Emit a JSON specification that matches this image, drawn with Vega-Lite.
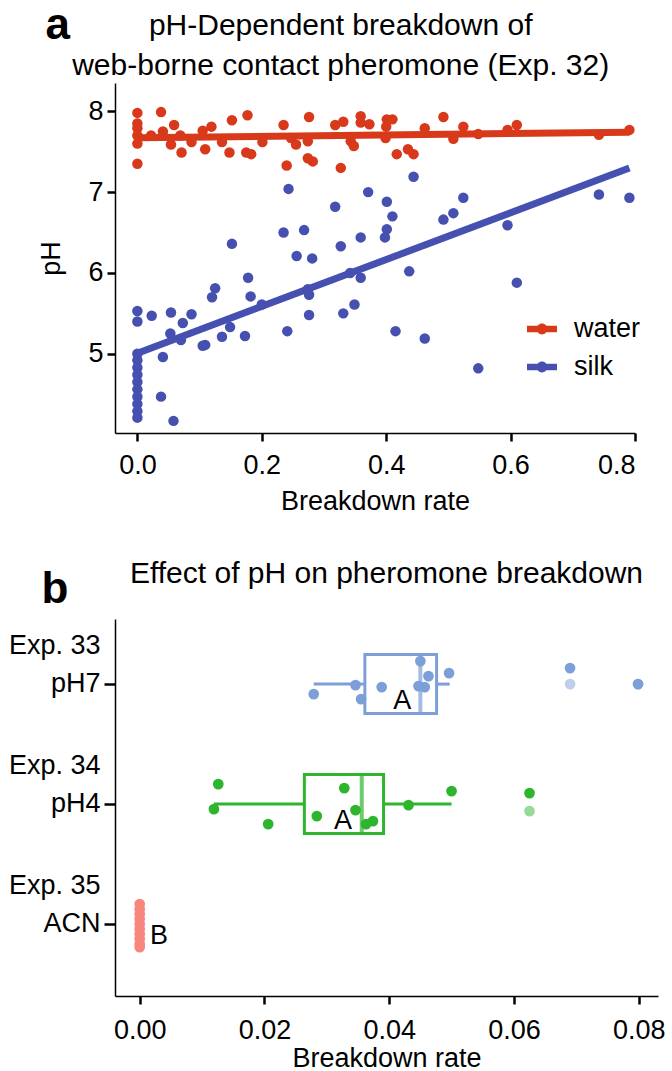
{
  "$schema": "https://vega.github.io/schema/vega-lite/v6.json",
  "padding": {"left": 8, "top": 4, "right": 5, "bottom": 3},
  "title": {"text": "a", "anchor": "start", "frame": "bounds", "fontSize": 44, "fontWeight": "bold", "offset": -37, "dx": 37, "color": "black"},
  "resolve": {"scale": {"color": "independent", "stroke": "independent"}},
  "datasets": {
    "scatter": [
      {"series": "water", "rate": 0.0, "pH": 7.98}, {"series": "water", "rate": 0.0, "pH": 7.85}, {"series": "water", "rate": 0.0, "pH": 7.79}, {"series": "water", "rate": 0.0, "pH": 7.70}, {"series": "water", "rate": 0.0, "pH": 7.60}, {"series": "water", "rate": 0.0, "pH": 7.35},
      {"series": "water", "rate": 0.022, "pH": 7.70}, {"series": "water", "rate": 0.038, "pH": 7.99}, {"series": "water", "rate": 0.041, "pH": 7.75}, {"series": "water", "rate": 0.054, "pH": 7.59}, {"series": "water", "rate": 0.059, "pH": 7.83}, {"series": "water", "rate": 0.071, "pH": 7.49}, {"series": "water", "rate": 0.069, "pH": 7.70}, {"series": "water", "rate": 0.087, "pH": 7.62}, {"series": "water", "rate": 0.105, "pH": 7.76}, {"series": "water", "rate": 0.109, "pH": 7.53}, {"series": "water", "rate": 0.119, "pH": 7.81}, {"series": "water", "rate": 0.136, "pH": 7.62}, {"series": "water", "rate": 0.148, "pH": 7.49}, {"series": "water", "rate": 0.152, "pH": 7.89}, {"series": "water", "rate": 0.177, "pH": 7.95}, {"series": "water", "rate": 0.175, "pH": 7.49}, {"series": "water", "rate": 0.183, "pH": 7.47}, {"series": "water", "rate": 0.201, "pH": 7.62}, {"series": "water", "rate": 0.235, "pH": 7.83}, {"series": "water", "rate": 0.24, "pH": 7.33}, {"series": "water", "rate": 0.247, "pH": 7.67}, {"series": "water", "rate": 0.255, "pH": 7.59}, {"series": "water", "rate": 0.274, "pH": 7.63}, {"series": "water", "rate": 0.276, "pH": 7.93}, {"series": "water", "rate": 0.274, "pH": 7.42}, {"series": "water", "rate": 0.282, "pH": 7.38}, {"series": "water", "rate": 0.318, "pH": 7.83}, {"series": "water", "rate": 0.331, "pH": 7.87}, {"series": "water", "rate": 0.327, "pH": 7.30}, {"series": "water", "rate": 0.343, "pH": 7.63}, {"series": "water", "rate": 0.348, "pH": 7.57}, {"series": "water", "rate": 0.359, "pH": 7.94}, {"series": "water", "rate": 0.359, "pH": 7.86}, {"series": "water", "rate": 0.373, "pH": 7.84}, {"series": "water", "rate": 0.401, "pH": 7.90}, {"series": "water", "rate": 0.41, "pH": 7.90}, {"series": "water", "rate": 0.4, "pH": 7.81}, {"series": "water", "rate": 0.399, "pH": 7.67}, {"series": "water", "rate": 0.417, "pH": 7.47}, {"series": "water", "rate": 0.435, "pH": 7.53}, {"series": "water", "rate": 0.444, "pH": 7.47}, {"series": "water", "rate": 0.462, "pH": 7.79}, {"series": "water", "rate": 0.492, "pH": 7.93}, {"series": "water", "rate": 0.508, "pH": 7.66}, {"series": "water", "rate": 0.524, "pH": 7.81}, {"series": "water", "rate": 0.548, "pH": 7.72}, {"series": "water", "rate": 0.595, "pH": 7.77}, {"series": "water", "rate": 0.61, "pH": 7.83}, {"series": "water", "rate": 0.742, "pH": 7.71}, {"series": "water", "rate": 0.791, "pH": 7.77},
      {"series": "silk", "rate": 0.0, "pH": 5.53}, {"series": "silk", "rate": 0.0, "pH": 5.40}, {"series": "silk", "rate": 0.0, "pH": 5.00}, {"series": "silk", "rate": 0.0, "pH": 4.92}, {"series": "silk", "rate": 0.0, "pH": 4.83}, {"series": "silk", "rate": 0.0, "pH": 4.74}, {"series": "silk", "rate": 0.0, "pH": 4.65}, {"series": "silk", "rate": 0.0, "pH": 4.56}, {"series": "silk", "rate": 0.0, "pH": 4.47}, {"series": "silk", "rate": 0.0, "pH": 4.38}, {"series": "silk", "rate": 0.0, "pH": 4.29}, {"series": "silk", "rate": 0.0, "pH": 4.21},
      {"series": "silk", "rate": 0.023, "pH": 5.47}, {"series": "silk", "rate": 0.054, "pH": 5.51}, {"series": "silk", "rate": 0.053, "pH": 5.25}, {"series": "silk", "rate": 0.073, "pH": 5.38}, {"series": "silk", "rate": 0.087, "pH": 5.49}, {"series": "silk", "rate": 0.07, "pH": 5.17}, {"series": "silk", "rate": 0.041, "pH": 4.96}, {"series": "silk", "rate": 0.038, "pH": 4.47}, {"series": "silk", "rate": 0.058, "pH": 4.17}, {"series": "silk", "rate": 0.105, "pH": 5.10}, {"series": "silk", "rate": 0.109, "pH": 5.11}, {"series": "silk", "rate": 0.136, "pH": 5.21}, {"series": "silk", "rate": 0.149, "pH": 5.33}, {"series": "silk", "rate": 0.173, "pH": 5.22}, {"series": "silk", "rate": 0.2, "pH": 5.61}, {"series": "silk", "rate": 0.182, "pH": 5.71}, {"series": "silk", "rate": 0.178, "pH": 5.94}, {"series": "silk", "rate": 0.125, "pH": 5.81}, {"series": "silk", "rate": 0.12, "pH": 5.70}, {"series": "silk", "rate": 0.152, "pH": 6.36}, {"series": "silk", "rate": 0.235, "pH": 6.50}, {"series": "silk", "rate": 0.243, "pH": 7.04}, {"series": "silk", "rate": 0.268, "pH": 6.53}, {"series": "silk", "rate": 0.256, "pH": 6.21}, {"series": "silk", "rate": 0.281, "pH": 6.18}, {"series": "silk", "rate": 0.241, "pH": 5.28}, {"series": "silk", "rate": 0.274, "pH": 5.80}, {"series": "silk", "rate": 0.276, "pH": 5.73}, {"series": "silk", "rate": 0.276, "pH": 5.48}, {"series": "silk", "rate": 0.318, "pH": 6.82}, {"series": "silk", "rate": 0.327, "pH": 6.33}, {"series": "silk", "rate": 0.331, "pH": 5.50}, {"series": "silk", "rate": 0.342, "pH": 6.00}, {"series": "silk", "rate": 0.349, "pH": 5.61}, {"series": "silk", "rate": 0.359, "pH": 5.94}, {"series": "silk", "rate": 0.359, "pH": 6.44}, {"series": "silk", "rate": 0.371, "pH": 7.00}, {"series": "silk", "rate": 0.401, "pH": 6.88}, {"series": "silk", "rate": 0.41, "pH": 6.70}, {"series": "silk", "rate": 0.401, "pH": 6.54}, {"series": "silk", "rate": 0.398, "pH": 6.44}, {"series": "silk", "rate": 0.437, "pH": 6.02}, {"series": "silk", "rate": 0.444, "pH": 7.19}, {"series": "silk", "rate": 0.415, "pH": 5.28}, {"series": "silk", "rate": 0.462, "pH": 5.19}, {"series": "silk", "rate": 0.492, "pH": 6.66}, {"series": "silk", "rate": 0.508, "pH": 6.74}, {"series": "silk", "rate": 0.524, "pH": 6.93}, {"series": "silk", "rate": 0.548, "pH": 4.82}, {"series": "silk", "rate": 0.595, "pH": 6.59}, {"series": "silk", "rate": 0.61, "pH": 5.88}, {"series": "silk", "rate": 0.742, "pH": 6.97}, {"series": "silk", "rate": 0.791, "pH": 6.93}
    ],
    "points": [
      {"group": "Exp. 33|pH7", "rate": 0.0279, "jit": 10}, {"group": "Exp. 33|pH7", "rate": 0.0346, "jit": 1}, {"group": "Exp. 33|pH7", "rate": 0.0355, "jit": 15}, {"group": "Exp. 33|pH7", "rate": 0.0388, "jit": 3}, {"group": "Exp. 33|pH7", "rate": 0.0450, "jit": -23}, {"group": "Exp. 33|pH7", "rate": 0.0447, "jit": 2}, {"group": "Exp. 33|pH7", "rate": 0.0457, "jit": 3}, {"group": "Exp. 33|pH7", "rate": 0.0463, "jit": -8}, {"group": "Exp. 33|pH7", "rate": 0.0496, "jit": -11}, {"group": "Exp. 33|pH7", "rate": 0.0690, "jit": -16}, {"group": "Exp. 33|pH7", "rate": 0.0799, "jit": 0},
      {"group": "Exp. 34|pH4", "rate": 0.0126, "jit": -20}, {"group": "Exp. 34|pH4", "rate": 0.0119, "jit": 5}, {"group": "Exp. 34|pH4", "rate": 0.0206, "jit": 20}, {"group": "Exp. 34|pH4", "rate": 0.0284, "jit": 12}, {"group": "Exp. 34|pH4", "rate": 0.0328, "jit": -16}, {"group": "Exp. 34|pH4", "rate": 0.0346, "jit": 6}, {"group": "Exp. 34|pH4", "rate": 0.0363, "jit": 20}, {"group": "Exp. 34|pH4", "rate": 0.0374, "jit": 17}, {"group": "Exp. 34|pH4", "rate": 0.0431, "jit": 1}, {"group": "Exp. 34|pH4", "rate": 0.0500, "jit": -13}, {"group": "Exp. 34|pH4", "rate": 0.0625, "jit": -11},
      {"group": "Exp. 35|ACN", "rate": 0.0, "jit": -20}, {"group": "Exp. 35|ACN", "rate": 0.0, "jit": -15}, {"group": "Exp. 35|ACN", "rate": 0.0, "jit": -10}, {"group": "Exp. 35|ACN", "rate": 0.0, "jit": -5}, {"group": "Exp. 35|ACN", "rate": 0.0, "jit": 0}, {"group": "Exp. 35|ACN", "rate": 0.0, "jit": 5}, {"group": "Exp. 35|ACN", "rate": 0.0, "jit": 10}, {"group": "Exp. 35|ACN", "rate": 0.0, "jit": 15}, {"group": "Exp. 35|ACN", "rate": 0.0, "jit": 20}, {"group": "Exp. 35|ACN", "rate": 0.0, "jit": 23}
    ],
    "outliers": [
      {"group": "Exp. 33|pH7", "rate": 0.0690, "jit": 0}, {"group": "Exp. 33|pH7", "rate": 0.0799, "jit": 0}, {"group": "Exp. 34|pH4", "rate": 0.0625, "jit": 7}
    ],
    "boxes": [
      {"group": "Exp. 33|pH7", "wlo": 0.0279, "q1": 0.0361, "median": 0.0450, "q3": 0.0476, "whi": 0.0497},
      {"group": "Exp. 34|pH4", "wlo": 0.0119, "q1": 0.0264, "median": 0.0356, "q3": 0.0391, "whi": 0.0500}
    ],
    "letters": [
      {"group": "Exp. 33|pH7", "rate": 0.0421, "jit": 17, "letter": "A"},
      {"group": "Exp. 34|pH4", "rate": 0.0326, "jit": 17, "letter": "A"},
      {"group": "Exp. 35|ACN", "rate": 0.0031, "jit": 12, "letter": "B"}
    ]
  },
  "spacing": 45,
  "vconcat": [
    {
      "width": 520,
      "height": 350,
      "title": {"text": ["pH-Dependent breakdown of", "web-borne contact pheromone (Exp. 32)"], "fontSize": 30, "fontWeight": "normal", "anchor": "middle", "frame": "bounds", "lineHeight": 40, "offset": 2, "color": "black"},
      "data": {"name": "scatter"},
      "layer": [
        {
          "transform": [{"regression": "pH", "on": "rate", "groupby": ["series"]}],
          "mark": {"type": "line", "strokeWidth": 7},
          "encoding": {
            "x": {"field": "rate", "type": "quantitative"},
            "y": {"field": "pH", "type": "quantitative"},
            "color": {"field": "series", "type": "nominal"}
          }
        },
        {
          "mark": {"type": "circle", "size": 110, "opacity": 1},
          "encoding": {
            "x": {"field": "rate", "type": "quantitative", "scale": {"domain": [-0.036, 0.8], "nice": false, "zero": false},
              "axis": {"values": [0, 0.2, 0.4, 0.6, 0.8], "format": ".1f", "title": "Breakdown rate", "tickSize": 8, "labelPadding": 11, "titlePadding": 10}},
            "y": {"field": "pH", "type": "quantitative", "scale": {"domain": [4.02, 8.35], "nice": false, "zero": false},
              "axis": {"values": [5, 6, 7, 8], "format": "d", "title": "pH", "tickSize": 8, "labelPadding": 4, "titlePadding": 22}},
            "color": {"field": "series", "type": "nominal", "scale": {"domain": ["water", "silk"], "range": ["#d8391a", "#4550b0"]},
              "legend": {"title": null, "orient": "none", "legendX": 412, "legendY": 231, "labelFontSize": 27, "labelColor": "black", "labelOffset": 17, "rowPadding": 10, "symbolType": "M-1,-0.22H1V0.22H-1Z M0.36,0A0.36,0.36 0 1 1 -0.36,0A0.36,0.36 0 1 1 0.36,0Z", "symbolSize": 900, "symbolStrokeWidth": 0}}
          }
        }
      ]
    },
    {
      "width": 543,
      "height": 377,
      "title": {"text": "Effect of pH on pheromone breakdown", "fontSize": 30, "fontWeight": "normal", "anchor": "middle", "frame": "group", "offset": -22, "color": "black"},
      "encoding": {
        "y": {"field": "group", "type": "nominal",
          "scale": {"domain": ["Exp. 33|pH7", "Exp. 34|pH4", "Exp. 35|ACN"], "paddingInner": 0, "paddingOuter": 0.0708, "align": 0.3},
          "axis": {"title": "b", "titleAngle": 0, "titleX": -74, "titleY": -17, "titleFontSize": 44, "titleFontWeight": "bold", "titleAlign": "left", "titleBaseline": "alphabetic", "labelExpr": "split(datum.value, '|')", "labelLineHeight": 38, "labelOffset": -38, "tickSize": 11, "labelPadding": 4}}
      },
      "layer": [
        {
          "data": {"name": "boxes"},
          "mark": {"type": "rule", "strokeWidth": 3},
          "encoding": {
            "x": {"field": "wlo", "type": "quantitative"},
            "x2": {"field": "q1"},
            "color": {"field": "group", "type": "nominal", "scale": {"domain": ["Exp. 33|pH7", "Exp. 34|pH4", "Exp. 35|ACN"], "range": ["#7d9fd8", "#2db52d", "#f8867c"]}, "legend": null}
          }
        },
        {
          "data": {"name": "boxes"},
          "mark": {"type": "rule", "strokeWidth": 3},
          "encoding": {
            "x": {"field": "q3", "type": "quantitative"},
            "x2": {"field": "whi"},
            "color": {"field": "group", "type": "nominal", "legend": null}
          }
        },
        {
          "data": {"name": "boxes"},
          "mark": {"type": "bar", "size": 59, "fillOpacity": 0, "strokeWidth": 3},
          "encoding": {
            "x": {"field": "q1", "type": "quantitative"},
            "x2": {"field": "q3"},
            "stroke": {"field": "group", "type": "nominal", "scale": {"domain": ["Exp. 33|pH7", "Exp. 34|pH4", "Exp. 35|ACN"], "range": ["#7d9fd8", "#2db52d", "#f8867c"]}, "legend": null}
          }
        },
        {
          "data": {"name": "boxes"},
          "mark": {"type": "tick", "orient": "vertical", "size": 59, "thickness": 4},
          "encoding": {
            "x": {"field": "median", "type": "quantitative"},
            "color": {"field": "group", "type": "nominal", "legend": null}
          }
        },
        {
          "data": {"name": "outliers"},
          "mark": {"type": "circle", "size": 115, "opacity": 0.5},
          "encoding": {
            "x": {"field": "rate", "type": "quantitative"},
            "yOffset": {"field": "jit", "type": "quantitative", "scale": {"domain": [-60, 60], "range": [0, 120]}},
            "color": {"field": "group", "type": "nominal", "legend": null}
          }
        },
        {
          "data": {"name": "points"},
          "mark": {"type": "circle", "size": 115, "opacity": 1},
          "encoding": {
            "x": {"field": "rate", "type": "quantitative", "scale": {"domain": [-0.00396, 0.0831], "nice": false, "zero": false},
              "axis": {"values": [0, 0.02, 0.04, 0.06, 0.08], "format": ".2f", "title": "Breakdown rate", "tickSize": 8, "labelPadding": 13, "titlePadding": 2}},
            "yOffset": {"field": "jit", "type": "quantitative", "scale": {"domain": [-60, 60], "range": [0, 120]}},
            "color": {"field": "group", "type": "nominal", "legend": null}
          }
        },
        {
          "data": {"name": "letters"},
          "mark": {"type": "text", "fontSize": 27, "color": "black", "baseline": "middle", "align": "center"},
          "encoding": {
            "x": {"field": "rate", "type": "quantitative"},
            "yOffset": {"field": "jit", "type": "quantitative", "scale": {"domain": [-60, 60], "range": [0, 120]}},
            "text": {"field": "letter"}
          }
        }
      ]
    }
  ],
  "config": {
    "font": "Liberation Sans",
    "view": {"stroke": null},
    "axis": {"grid": false, "domainColor": "black", "tickColor": "black", "labelColor": "black", "titleColor": "black", "labelFontSize": 27, "titleFontSize": 27, "titleFontWeight": "normal", "domainWidth": 1.5, "tickWidth": 2.5},
    "title": {"color": "black", "fontWeight": "normal"}
  }
}
